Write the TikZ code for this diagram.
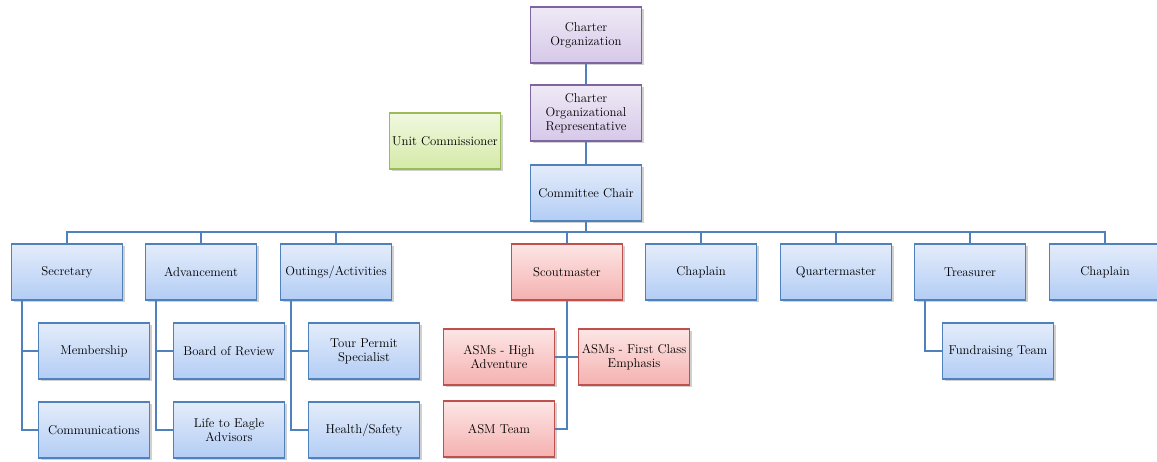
\documentclass[tikz,border=0pt]{standalone}
\usetikzlibrary{shadows}
\definecolor{bbord}{HTML}{4F81BD}
\definecolor{btop}{HTML}{E4ECFA}
\definecolor{bbot}{HTML}{B3CDF5}
\definecolor{pbord}{HTML}{8064A2}
\definecolor{ptop}{HTML}{EFE9F6}
\definecolor{pbot}{HTML}{D6C9E9}
\definecolor{gbord}{HTML}{9BBB59}
\definecolor{gtop}{HTML}{F1F8E0}
\definecolor{gbot}{HTML}{D5EAA7}
\definecolor{rbord}{HTML}{C0504D}
\definecolor{rtop}{HTML}{FDE6E6}
\definecolor{rbot}{HTML}{F4B1AF}
\tikzset{
  orgbox/.style={rectangle, minimum width=111pt, minimum height=56pt, inner sep=1pt,
    line width=1.8pt, align=center,
    font=\fontsize{12.8}{14}\selectfont,
    drop shadow={shadow xshift=2pt, shadow yshift=-2pt, opacity=0.3, fill=black!60}},
  bluebox/.style={orgbox, draw=bbord, top color=btop, bottom color=bbot},
  purplebox/.style={orgbox, draw=pbord, top color=ptop, bottom color=pbot},
  greenbox/.style={orgbox, draw=gbord, top color=gtop, bottom color=gbot},
  redbox/.style={orgbox, draw=rbord, top color=rtop, bottom color=rbot},
  link/.style={draw=bbord, line width=2pt}
}
\begin{document}
\begin{tikzpicture}[x=1pt,y=-1pt]
\fill[white] (0,0) rectangle (1157,462);
\useasboundingbox (0,0) rectangle (1157,462);

% connectors first (drawn under boxes)
\coordinate (bus) at (586,232);

\node[purplebox] (co)  at (586,35)  {Charter\\Organization};
\node[purplebox] (cor) at (586,113) {Charter\\Organizational\\Representative};
\node[greenbox]  (uc)  at (445,141) {Unit Commissioner};
\node[bluebox]   (cc)  at (586,193) {Committee Chair};

\node[bluebox] (sec) at (67,272)   {Secretary};
\node[bluebox] (adv) at (201,272)  {Advancement};
\node[bluebox] (out) at (336,272)  {Outings/Activities};
\node[redbox]  (sm)  at (567,272)  {Scoutmaster};
\node[bluebox] (ch1) at (701,272)  {Chaplain};
\node[bluebox] (qm)  at (836,272)  {Quartermaster};
\node[bluebox] (tr)  at (970,272)  {Treasurer};
\node[bluebox] (ch2) at (1105,272) {Chaplain};

\node[bluebox] (mem) at (94,351)  {Membership};
\node[bluebox] (com) at (94,430)  {Communications};
\node[bluebox] (bor) at (229,351) {Board of Review};
\node[bluebox] (lte) at (229,430) {Life to Eagle\\Advisors};
\node[bluebox] (tps) at (364,351) {Tour Permit\\Specialist};
\node[bluebox] (hs)  at (364,430) {Health/Safety};

\node[redbox] (asm1) at (499,357) {ASMs - High\\Adventure};
\node[redbox] (asm2) at (634,357) {ASMs - First Class\\Emphasis};
\node[redbox] (asm3) at (499,429) {ASM Team};

\node[bluebox] (fr) at (998,351) {Fundraising Team};

\begin{scope}[on background layer/.try]
\end{scope}

\draw[link] (co.south) -- (cor.north);
\draw[link] (cor.south) -- (cc.north);
\draw[link] (cc.south) -- (bus);
\draw[link] (sec.north) |- (bus) -| (ch2.north);
\foreach \n in {adv,out,sm,ch1,qm,tr} \draw[link] (\n.north) |- (bus);

\coordinate (secd) at ([xshift=11pt]sec.south west);
\coordinate (advd) at ([xshift=11pt]adv.south west);
\coordinate (outd) at ([xshift=11pt]out.south west);
\coordinate (trd)  at ([xshift=11pt]tr.south west);
\draw[link] (secd) |- (mem.west);
\draw[link] (secd) |- (com.west);
\draw[link] (advd) |- (bor.west);
\draw[link] (advd) |- (lte.west);
\draw[link] (outd) |- (tps.west);
\draw[link] (outd) |- (hs.west);
\draw[link] (trd) |- (fr.west);
\draw[link] (sm.south) |- (asm3.east);
\draw[link] (asm1.east) -- (asm2.west);
\end{tikzpicture}
\end{document}
